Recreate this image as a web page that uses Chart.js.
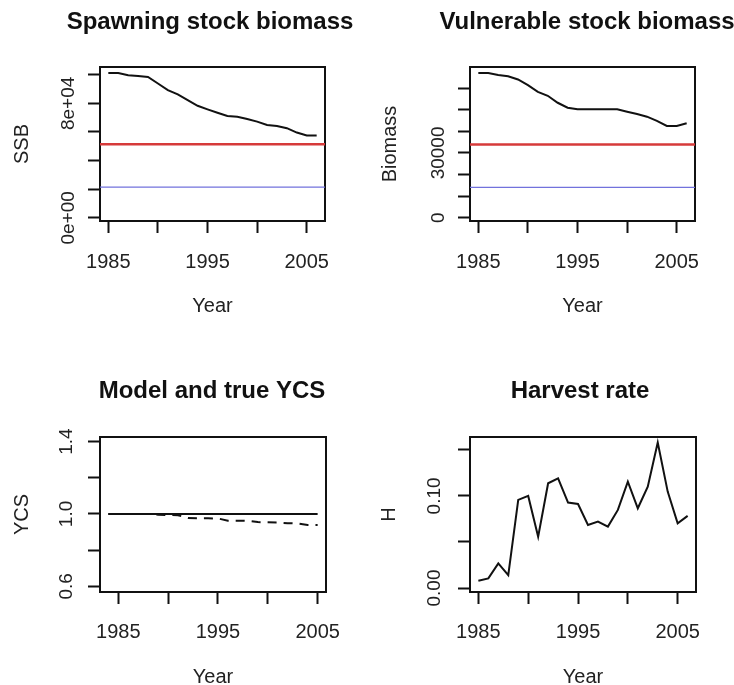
<!DOCTYPE html>
<html><head><meta charset="utf-8">
<script src="https://cdn.jsdelivr.net/npm/chart.js@4"></script>
<style>
html,body{margin:0;padding:0;background:#fff;overflow:hidden;width:734px;height:685px;position:relative}
canvas{position:absolute}
</style></head><body>
<canvas id="c1" width="420" height="340" style="left:0px;top:0px"></canvas>
<canvas id="c2" width="440" height="340" style="left:367px;top:0px"></canvas>
<canvas id="c3" width="424" height="360" style="left:0px;top:340px"></canvas>
<canvas id="c4" width="426" height="360" style="left:367px;top:340px"></canvas>
<script>
// ---- data ----
const years = [1985,1986,1987,1988,1989,1990,1991,1992,1993,1994,1995,1996,1997,1998,1999,2000,2001,2002,2003,2004,2005,2006];
const ssb = [101250,101250,99650,99170,98470,93890,89240,86250,82290,78330,75830,73470,71180,70690,69100,67220,64930,64240,62640,59580,57500,57500];
const ssbRed = 51500, ssbBlue = 21500;
const vsb = [67100,67100,66180,65580,64060,61430,58340,56500,53270,50970,50230,50230,50230,50230,50230,49120,48060,46820,44840,42530,42530,43780];
const vsbRed = 33900, vsbBlue = 14000;
const ycsYears = [1984,1985,1986,1987,1988,1989,1990,1991,1992,1993,1994,1995,1996,1997,1998,1999,2000,2001,2002,2003,2004,2005];
const ycsModel = [1,1,1,1,1,1,1,1,1,1,1,1,1,1,1,1,1,1,1,1,1,1];
const ycsTrue = [1,1,1,1,1,0.996,0.994,0.993,0.977,0.976,0.976,0.975,0.963,0.963,0.962,0.955,0.954,0.953,0.949,0.947,0.939,0.939];
const harvest = [0.0080,0.0105,0.0268,0.0141,0.0957,0.1000,0.0558,0.1138,0.1192,0.0928,0.0913,0.0685,0.0721,0.0667,0.0848,0.1156,0.0866,0.1101,0.1580,0.1047,0.0703,0.0783];

const xTicks = [1985,1990,1995,2000,2005];
const xTickLabels = {"1985":"1985","1995":"1995","2005":"2005"};
const ssbTicks = [0,20000,40000,60000,80000,100000];
const ssbTickLabels = {"0":"0e+00","80000":"8e+04"};
const vsbTicks = [0,10000,20000,30000,40000,50000,60000];
const vsbTickLabels = {"0":"0","30000":"30000"};
const ycsTicks = [0.6,0.8,1.0,1.2,1.4];
const ycsTickLabels = {"0.6":"0.6","1":"1.0","1.4":"1.4"};
const hTicks = [0,0.05,0.1,0.15];
const hTickLabels = {"0":"0.00","0.1":"0.10"};

// ---- styling ----
const FAMILY = '"Liberation Sans", Arial, Helvetica, sans-serif';
const INK = '#111111';
const TL = 12;
const X_FONT = 20, Y_FONT = 19, AX_FONT = 20, TITLE_FONT = 24;

function rExtend(a, b){ const d = (b - a) * 0.04; return [a - d, b + d]; }

function measureWidest(labels){
  const c = document.createElement('canvas').getContext('2d');
  c.font = Y_FONT + 'px ' + FAMILY;
  let w = 0; labels.forEach(l => { w = Math.max(w, c.measureText(l).width); });
  return w;
}

function panel(id, p){
  const cv = document.getElementById(id);
  const W = cv.width, H = cv.height;
  const widest = measureWidest(Object.values(p.yLabels));
  const datasets = p.series.map(s => ({
    data: s.xs.map((x,i) => ({x: x, y: s.ys[i]})),
    borderColor: s.color, borderWidth: s.width, borderDash: s.dash || [],
    pointRadius: 0, tension: 0, fill: false
  }));
  new Chart(cv, {
    type: 'line',
    data: {datasets: datasets},
    options: {
      responsive: false, animation: false, devicePixelRatio: 1,
      layout: {padding: 0, autoPadding: false},
      plugins: {
        legend: {display: false}, tooltip: {enabled: false},
        title: {display: true, text: p.title, fullSize: true, color: INK,
          font: {family: FAMILY, size: TITLE_FONT, weight: 'bold', lineHeight: 1.2},
          padding: {top: p.titleY - TITLE_FONT*0.6, bottom: p.area.top - (p.titleY - TITLE_FONT*0.6) - TITLE_FONT*1.2}}
      },
      scales: {
        x: {type: 'linear', position: 'bottom', min: p.xRange[0], max: p.xRange[1],
          afterBuildTicks: s => { s.ticks = xTicks.map(v => ({value: v})); },
          afterFit: s => { s.height = H - p.area.bottom; },
          ticks: {autoSkip: false, maxRotation: 0, minRotation: 0, color: '#222',
            font: {family: FAMILY, size: X_FONT, lineHeight: 1.2},
            padding: p.xLabelY - p.area.bottom - TL - X_FONT*0.6,
            callback: v => xTickLabels[String(v)] || ''},
          grid: {drawOnChartArea: false, drawTicks: true, tickLength: TL, tickColor: INK, tickWidth: 2},
          border: {display: true, color: INK, width: 2},
          title: {display: true, text: 'Year', color: '#222', font: {family: FAMILY, size: AX_FONT, lineHeight: 1.2},
            padding: {top: 0, bottom: H - p.xTitleY - AX_FONT*0.6}}
        },
        y: {type: 'linear', position: 'left', min: p.yRange[0], max: p.yRange[1],
          afterBuildTicks: s => { s.ticks = p.yTicks.map(v => ({value: v})); },
          afterFit: s => { s.width = p.area.left; },
          ticks: {autoSkip: false, minRotation: 90, maxRotation: 90, crossAlign: 'center', color: '#222',
            font: {family: FAMILY, size: Y_FONT, lineHeight: 1.2},
            padding: p.yLabelOff - TL - widest/2,
            callback: v => p.yLabels[String(v)] || ''},
          grid: {drawOnChartArea: false, drawTicks: true, tickLength: TL, tickColor: INK, tickWidth: 2},
          border: {display: true, color: INK, width: 2},
          title: {display: true, text: p.yTitle, color: '#222', font: {family: FAMILY, size: AX_FONT, lineHeight: 1.2},
            padding: {top: p.yTitleX - AX_FONT*0.6, bottom: 0}}
        },
        x2: {type: 'linear', position: 'top', min: 0, max: 1,
          afterFit: s => { s.height = 0; },
          ticks: {display: false}, grid: {drawOnChartArea: false, drawTicks: false},
          border: {display: true, color: INK, width: 2}},
        y2: {type: 'linear', position: 'right', min: 0, max: 1,
          afterFit: s => { s.width = W - p.area.right; },
          ticks: {display: false}, grid: {drawOnChartArea: false, drawTicks: false},
          border: {display: true, color: INK, width: 2}}
      }
    }
  });
}

const RED = '#d63a3a', BLUE = '#7272dc';
const xr1 = rExtend(years[0], years[years.length-1]);
const xr3 = rExtend(ycsYears[0], ycsYears[ycsYears.length-1]);

panel('c1', {
  area: {left: 100, right: 325, top: 67, bottom: 221},
  title: 'Spawning stock biomass', titleY: 22,
  xRange: xr1, yRange: [-2200, 105400], yTicks: ssbTicks, yLabels: ssbTickLabels,
  yTitle: 'SSB', yTitleX: 22, yLabelOff: 31, xLabelY: 262, xTitleY: 306,
  series: [
    {xs: years, ys: ssb, color: INK, width: 2},
    {xs: xr1, ys: [ssbRed, ssbRed], color: RED, width: 2.5},
    {xs: xr1, ys: [ssbBlue, ssbBlue], color: BLUE, width: 1.3}
  ]
});
panel('c2', {
  area: {left: 103, right: 328, top: 67, bottom: 221},
  title: 'Vulnerable stock biomass', titleY: 22,
  xRange: xr1, yRange: [-1570, 69860], yTicks: vsbTicks, yLabels: vsbTickLabels,
  yTitle: 'Biomass', yTitleX: 23, yLabelOff: 31, xLabelY: 262, xTitleY: 306,
  series: [
    {xs: years, ys: vsb, color: INK, width: 2},
    {xs: xr1, ys: [vsbRed, vsbRed], color: RED, width: 2.5},
    {xs: xr1, ys: [vsbBlue, vsbBlue], color: BLUE, width: 1.3}
  ]
});
panel('c3', {
  area: {left: 100, right: 326, top: 97, bottom: 252},
  title: 'Model and true YCS', titleY: 51,
  xRange: xr3, yRange: [0.569, 1.425], yTicks: ycsTicks, yLabels: ycsTickLabels,
  yTitle: 'YCS', yTitleX: 22, yLabelOff: 33, xLabelY: 292, xTitleY: 337,
  series: [
    {xs: ycsYears, ys: ycsModel, color: INK, width: 2},
    {xs: ycsYears, ys: ycsTrue, color: INK, width: 2, dash: [9, 7]}
  ]
});
panel('c4', {
  area: {left: 103, right: 329, top: 97, bottom: 252},
  title: 'Harvest rate', titleY: 51,
  xRange: xr1, yRange: [-0.0043, 0.164], yTicks: hTicks, yLabels: hTickLabels,
  yTitle: 'H', yTitleX: 22, yLabelOff: 35, xLabelY: 292, xTitleY: 337,
  series: [
    {xs: years, ys: harvest, color: INK, width: 2}
  ]
});
</script>
</body></html>
